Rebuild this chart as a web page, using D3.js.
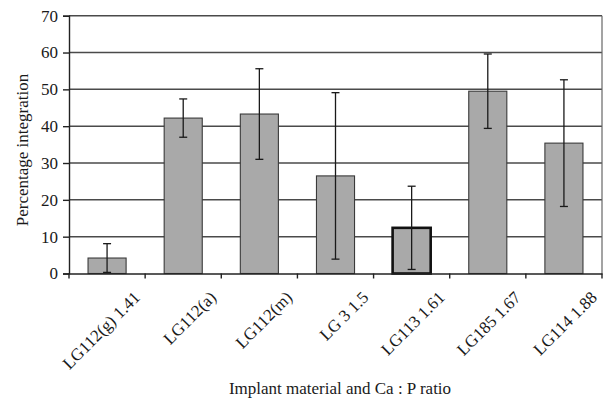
<!DOCTYPE html>
<html>
<head>
<meta charset="utf-8">
<script src="https://cdn.jsdelivr.net/npm/d3@7"></script>
<style>
  body { margin: 0; background: #fff; }
  svg { display: block; font-family: "Liberation Serif", "Times New Roman", serif; }
</style>
</head>
<body>
<svg width="605" height="403"></svg>
<script>
// values
const materials = ['LG112(g) 1.41', 'LG112(a)', 'LG112(m)', 'LG 3 1.5', 'LG113 1.61', 'LG185 1.67', 'LG114 1.88'];
const integration = [4.2, 42.2, 43.3, 26.5, 12.4, 49.5, 35.4];
const errors = [3.9, 5.2, 12.3, 22.6, 11.3, 10.1, 17.2];
const yTicks = [0, 10, 20, 30, 40, 50, 60, 70];

var svg = d3.select('svg');

// plot area
let plotLeft = 69, plotRight = 602, plotTop = 15.7, plotBottom = 273.5;

let x = d3.scaleBand()
    .domain(materials)
    .range([plotLeft, plotRight])
    .paddingInner(0.5)
    .paddingOuter(0.25);

let y = d3.scaleLinear()
    .domain([0, 70])
    .range([plotBottom, plotTop]);

// gridlines
svg.append('g')
    .selectAll('line')
    .data(yTicks.slice(1))
    .enter().append('line')
    .attr('x1', plotLeft).attr('x2', plotRight)
    .attr('y1', d => y(d)).attr('y2', d => y(d))
    .attr('stroke', '#4a4a4a')
    .attr('stroke-width', 1.5);

// right border of plot area
svg.append('line')
    .attr('x1', plotRight).attr('x2', plotRight)
    .attr('y1', plotTop).attr('y2', plotBottom)
    .attr('stroke', '#666')
    .attr('stroke-width', 1.2);

// bars
svg.append('g')
    .selectAll('rect')
    .data(materials)
    .enter().append('rect')
    .attr('x', d => x(d))
    .attr('width', x.bandwidth())
    .attr('y', (d, i) => y(integration[i]))
    .attr('height', (d, i) => y(0) - y(integration[i]))
    .attr('fill', '#a9a9a9')
    .attr('stroke', (d, i) => i == 4 ? '#111' : '#3a3a3a')
    .attr('stroke-width', (d, i) => i == 4 ? 2.6 : 1.1);

// error bars
let eb = svg.append('g')
    .selectAll('g')
    .data(materials)
    .enter().append('g')
    .attr('stroke', '#1a1a1a')
    .attr('stroke-width', 1.3);

eb.append('line')
    .attr('x1', d => x(d) + x.bandwidth() / 2)
    .attr('x2', d => x(d) + x.bandwidth() / 2)
    .attr('y1', (d, i) => y(integration[i] + errors[i]))
    .attr('y2', (d, i) => y(integration[i] - errors[i]));

[1, -1].forEach(function(s) {
    eb.append('line')
        .attr('x1', d => x(d) + x.bandwidth() / 2 - 4)
        .attr('x2', d => x(d) + x.bandwidth() / 2 + 4)
        .attr('y1', (d, i) => y(integration[i] + s * errors[i]))
        .attr('y2', (d, i) => y(integration[i] + s * errors[i]));
});

// y axis
let yAxis = svg.append('g')
    .attr('transform', 'translate(' + plotLeft + ',0)')
    .call(d3.axisLeft(y).tickValues(yTicks).tickSize(6).tickPadding(5));
yAxis.select('.domain').attr('stroke', '#222').attr('stroke-width', 1.4);
yAxis.selectAll('.tick line').attr('stroke', '#222').attr('stroke-width', 1.4);
yAxis.selectAll('text')
    .attr('font-size', 17)
    .attr('font-family', '"Liberation Serif", serif')
    .attr('fill', '#1a1a1a');

// x axis, labels rotated
let xAxis = svg.append('g')
    .attr('transform', 'translate(0,' + plotBottom + ')')
    .call(d3.axisBottom(x).tickSize(0).tickSizeOuter(0));
xAxis.select('.domain').attr('stroke', '#222').attr('stroke-width', 1.4);
xAxis.selectAll('text')
    .attr('font-size', 17)
    .attr('font-family', '"Liberation Serif", serif')
    .attr('fill', '#1a1a1a')
    .attr('text-anchor', 'end')
    .attr('y', 0).attr('dy', 0)
    .attr('transform', 'translate(34,25) rotate(-45)');

// tick marks between categories
let step = x.step();
let bounds = materials.map(d => x(d) - step * 0.25).concat([plotRight]);
svg.append('g')
    .selectAll('line')
    .data(bounds)
    .enter().append('line')
    .attr('x1', d => d).attr('x2', d => d)
    .attr('y1', plotBottom).attr('y2', plotBottom + 5)
    .attr('stroke', '#222')
    .attr('stroke-width', 1.4);

// axis titles
svg.append('text')
    .attr('transform', 'translate(28,150) rotate(-90)')
    .attr('text-anchor', 'middle')
    .attr('font-size', 17)
    .attr('fill', '#1a1a1a')
    .text('Percentage integration');

svg.append('text')
    .attr('x', 340)
    .attr('y', 394)
    .attr('text-anchor', 'middle')
    .attr('font-size', 17)
    .attr('fill', '#1a1a1a')
    .text('Implant material and Ca : P ratio');
</script>
</body>
</html>
